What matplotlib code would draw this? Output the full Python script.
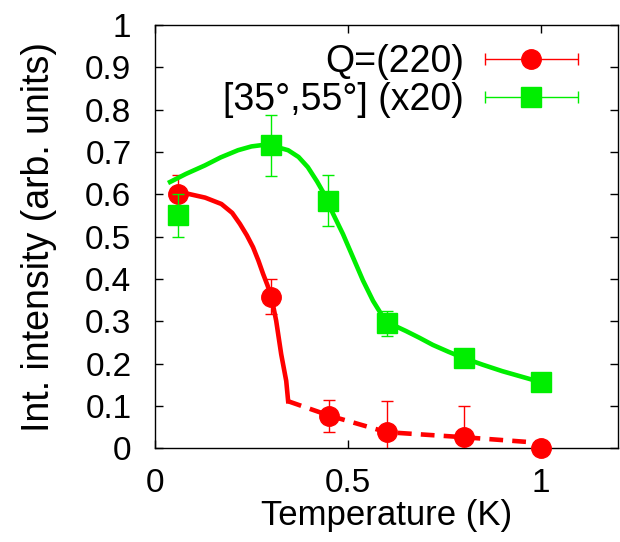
import numpy as np
import matplotlib
matplotlib.use("Agg")
import matplotlib.pyplot as plt
from matplotlib.container import ErrorbarContainer
from matplotlib.legend_handler import HandlerErrorbar

plt.rcParams['font.family'] = ['Liberation Sans', 'DejaVu Sans']

red = '#ff0000'
green = '#00ee00'

# measured points
T_q = [0.06, 0.30, 0.452, 0.60, 0.80, 1.00]
I_q = [0.600, 0.358, 0.076, 0.038, 0.026, 0.000]
E_q = [0.045, 0.042, 0.037, 0.073, 0.074, 0.0]

T_ang = [0.06, 0.30, 0.448, 0.60, 0.80, 1.00]
I_ang = [0.550, 0.716, 0.585, 0.295, 0.213, 0.156]
E_ang = [0.050, 0.072, 0.060, 0.030, 0.010, 0.010]

# guide-to-the-eye curves
T_q_fit = [0.052, 0.086, 0.13, 0.172, 0.20, 0.22, 0.238, 0.254, 0.268,
           0.28, 0.291, 0.301, 0.314, 0.327, 0.34, 0.345]
I_q_fit = [0.605, 0.601, 0.592, 0.577, 0.556, 0.530, 0.503, 0.475, 0.443,
           0.412, 0.386, 0.360, 0.301, 0.222, 0.159, 0.111]
T_q_tail = [0.345, 0.452, 0.60, 0.80, 1.00]
I_q_tail = [0.111, 0.077, 0.038, 0.026, 0.0125]

T_ang_fit = [0.039, 0.08, 0.129, 0.17, 0.215, 0.25, 0.276, 0.31, 0.345,
             0.372, 0.396, 0.42, 0.44, 0.457, 0.487, 0.513, 0.539, 0.565,
             0.586, 0.603, 0.65, 0.685, 0.72, 0.76, 0.80, 0.85, 0.90, 0.95,
             1.00]
I_ang_fit = [0.629, 0.648, 0.668, 0.687, 0.704, 0.713, 0.716, 0.713, 0.704,
             0.688, 0.664, 0.630, 0.598, 0.562, 0.506, 0.451, 0.396, 0.348,
             0.317, 0.297, 0.277, 0.261, 0.244, 0.228, 0.213, 0.197, 0.182,
             0.169, 0.156]

fig = plt.figure(figsize=(6.2, 5.42), dpi=100)
ax = fig.add_axes([0.25, 0.173, 0.747, 0.781])

ax.plot(T_q_fit, I_q_fit, color=red, lw=3.3, zorder=2)
ax.plot(T_q_tail, I_q_tail, color=red, lw=3.3, dashes=(3, 2), zorder=2)
ax.errorbar(T_q, I_q, yerr=E_q, fmt='none', ecolor=red, elinewidth=1,
            capsize=4, capthick=1, zorder=3)
ax.plot(T_q, I_q, 'o', color=red, ms=14, clip_on=False, zorder=4)

ax.plot(T_ang_fit, I_ang_fit, color=green, lw=3.3, zorder=5)
ax.errorbar(T_ang, I_ang, yerr=E_ang, fmt='none', ecolor=green, elinewidth=1,
            capsize=4, capthick=1, zorder=6)
ax.plot(T_ang, I_ang, 's', color=green, ms=14, clip_on=False, zorder=7)

# legend entries (gnuplot style, horizontal bars)
h1 = ax.errorbar([np.nan], [np.nan], xerr=[1], fmt='o', color=red, ms=14,
                 elinewidth=1, capsize=4, capthick=1, label='Q=(220)')
h2 = ax.errorbar([np.nan], [np.nan], xerr=[1], fmt='s', color=green, ms=14,
                 elinewidth=1, capsize=4, capthick=1, label='[35°,55°] (x20)')
ax.legend(handles=[h1, h2], loc='upper right', bbox_to_anchor=(0.914, 0.955),
          frameon=False, fontsize=27, markerfirst=False, handlelength=2.5,
          handletextpad=0.55, labelspacing=0.05, borderaxespad=0, borderpad=0,
          handler_map={ErrorbarContainer: HandlerErrorbar(xerr_size=1.25)})

ax.set_xlim(0, 1.2)
ax.set_ylim(0, 1)
ax.set_xticks([0, 0.5, 1])
ax.set_xticklabels(['0', '0.5', '1'])
ax.set_yticks(np.arange(0, 1.01, 0.1))
ax.set_yticklabels(['0', '0.1', '0.2', '0.3', '0.4', '0.5', '0.6', '0.7',
                    '0.8', '0.9', '1'])
ax.tick_params(direction='in', length=6, width=1, top=True, right=True)
ax.tick_params(axis='x', pad=14, labelsize=24)
ax.tick_params(axis='y', pad=17, labelsize=24)
for s in ax.spines.values():
    s.set_linewidth(1.0)

ax.set_xlabel('Temperature (K)', fontsize=25, labelpad=0)
ax.set_ylabel('Int. intensity (arb. units)', fontsize=27, labelpad=20)

fig.savefig('out.png', dpi=100)
